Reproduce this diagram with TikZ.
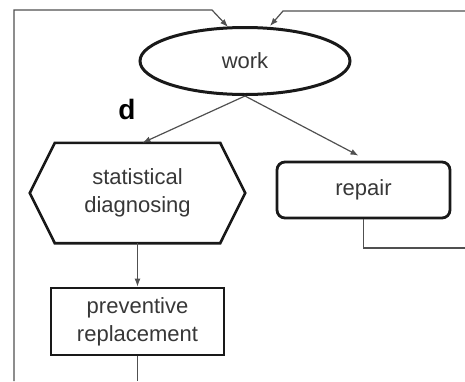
\documentclass[tikz,border=0pt]{standalone}
\usepackage{fontspec}
\setmainfont{Liberation Sans}
\usepackage{tikz}
\usetikzlibrary{shapes.geometric, arrows.meta, calc}
\usepackage{xcolor}
\definecolor{linegray}{RGB}{80,80,80}
\definecolor{textgray}{RGB}{55,55,55}
\tikzset{
    box/.style={draw=black!90, line width=2.8pt, minimum width=173pt, font=\fontsize{22}{28}\selectfont, text=textgray, align=center},
    oval/.style={box, ellipse, line width=3pt, minimum width=210pt, minimum height=67pt},
    hexbody/.style={font=\fontsize{22}{28}\selectfont, text=textgray, align=center, minimum width=165pt, minimum height=100pt},
    hexline/.style={draw=black!90, line width=2.6pt},
    conn/.style={draw=linegray, line width=1.2pt},
    flow/.style={conn, -{Latex[length=8pt,width=6pt]}}
}
\begin{document}
\begin{tikzpicture}[x=1pt, y=-1pt]
    \useasboundingbox (0,0) rectangle (465,381);
    \node[oval] (work) at (245,61) {work};
    \node[hexbody] (diag) at (137.5,193) {statistical\\diagnosing};
    \draw[hexline] (diag.north west) -- (diag.north east) -- ($(diag.east)+(25,0)$)
        -- (diag.south east) -- (diag.south west) -- ($(diag.west)+(-25,0)$) -- cycle;
    \node[box, rounded corners=8pt, minimum height=56pt] (repair) at (363.5,190) {repair};
    \node[box, minimum height=67pt] (prev) at (137.5,321.5) {preventive\\replacement};
    \node[font=\fontsize{28}{30}\selectfont\bfseries] (dlab) at (127,109) {d};

    % loops back to work
    \coordinate (loopL) at (14,381);
    \coordinate (bendL) at (212,10);
    \coordinate (tipL) at (228,27);
    \coordinate (loopR) at (465,11);
    \coordinate (bendR) at (283,11);
    \coordinate (tipR) at (270,26);
    \coordinate (outR) at (465,248);
    \coordinate (outB) at (137.5,381);

    \draw[flow] (loopL) |- (bendL) -- (tipL);
    \draw[flow] (loopR) -- (bendR) -- (tipR);
    \draw[flow] (work.south) -- ($(diag.north)+(5,0)$);
    \draw[flow] (work.south) -- ($(repair.north)+(-5,-5)$);
    \draw[flow] (diag.south) -- (prev.north);
    \draw[conn] (repair.south) |- (outR);
    \draw[conn] (prev.south) -- (outB);
\end{tikzpicture}
\end{document}
